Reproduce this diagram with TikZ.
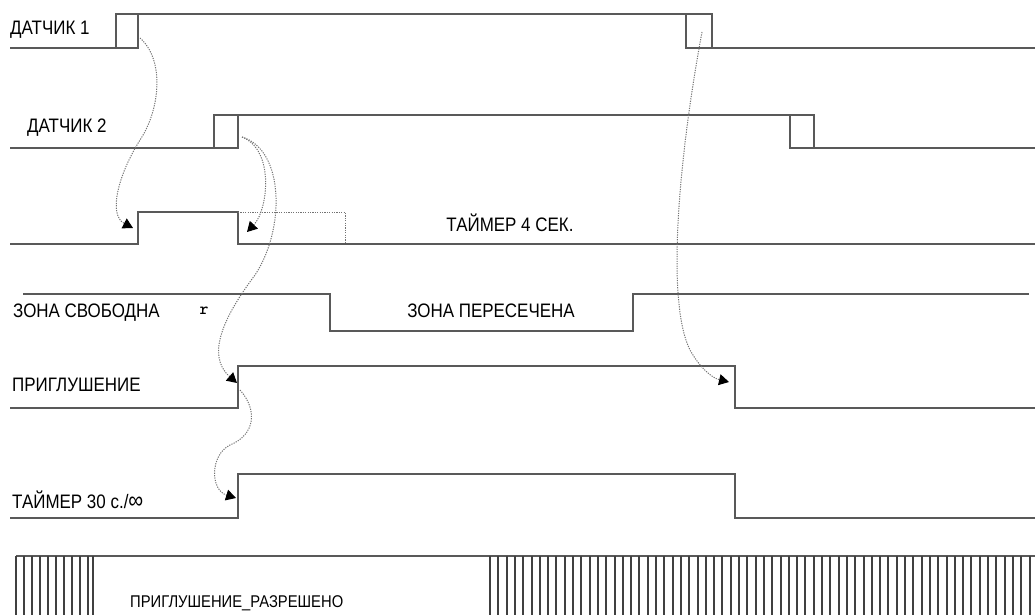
\documentclass[tikz,border=0pt]{standalone}
\usepackage{fontspec}
\setmainfont{Liberation Sans}[FakeStretch=0.87]
\usetikzlibrary{arrows.meta}

\begin{document}
\begin{tikzpicture}[x=1pt,y=-1pt,
    sig/.style={draw=black!65, line width=1.7pt},
    hatch/.style={draw=black!75, line width=2pt},
    link/.style={draw=black!55, dash pattern=on 1.2pt off 1.2pt, line width=1pt, -{Triangle[length=10pt,width=11pt,color=black]}},
    lbl/.style={font=\fontsize{19.5}{22}\selectfont, anchor=west, inner sep=0pt}]
    \useasboundingbox (0,0) rectangle (1035,615);
    % ДАТЧИК 1
    \draw[sig] (10,48) -- (138,48) -- (138,14);
    \draw[sig] (116,48) -- (116,14) -- (712,14) -- (712,48);
    \draw[sig] (686,14) -- (686,48) -- (1035,48);
    \node[lbl] (sens1) at (10,30) {ДАТЧИК 1};
    % ДАТЧИК 2
    \draw[sig] (10,148) -- (238,148) -- (238,115);
    \draw[sig] (214,148) -- (214,115) -- (814,115) -- (814,148);
    \draw[sig] (790,115) -- (790,148) -- (1035,148);
    \node[lbl] (sens2) at (27,128) {ДАТЧИК 2};
    % таймер 4 с
    \draw[sig] (10,244) -- (138,244) -- (138,212) -- (238,212) -- (238,244) -- (1035,244);
    \draw[draw=black!55, dash pattern=on 1.2pt off 1.2pt, line width=1pt] (238,212) -- (345,212) -- (345,244);
    \node[lbl, anchor=center] (timer4) at (510,223) {ТАЙМЕР 4 СЕК.};
    % зона
    \draw[sig] (23,294) -- (330,294) -- (330,331) -- (633,331) -- (633,294) -- (1029,294);
    \node[lbl] (zonefree) at (13,313) {ЗОНА СВОБОДНА};
    \node[lbl, anchor=center] (zonecut) at (491,311) {ЗОНА ПЕРЕСЕЧЕНА};
    \node[font=\ttfamily\bfseries\fontsize{17}{18}\selectfont, inner sep=0pt] (rmark) at (204,311) {r};
    % приглушение
    \draw[sig] (10,408) -- (238,408) -- (238,366) -- (735,366) -- (735,408) -- (1035,408);
    \node[lbl] (mute) at (12,385) {ПРИГЛУШЕНИЕ};
    % таймер 30 с
    \draw[sig] (10,518) -- (238,518) -- (238,474) -- (735,474) -- (735,518) -- (1035,518);
    \node[lbl] (timer30) at (12,500) {ТАЙМЕР 30 с./{\fontsize{24}{22}\selectfont ∞}};
    % разрешено
    \draw[sig] (16,556) -- (1035,556);
    \foreach \x in {16,24,...,88}
        \draw[hatch] (\x,556) -- (\x,615);
    \draw[hatch] (93,556) -- (93,615);
    \foreach \x in {490,498.3,...,1034}
        \draw[hatch] (\x,556) -- (\x,615);
    \node[lbl, font=\fontsize{17}{20}\selectfont] (allowed) at (130,603) {ПРИГЛУШЕНИЕ\_РАЗРЕШЕНО};
    % связи
    \coordinate (s1up) at (140,38);
    \coordinate (s1down) at (702,32);
    \coordinate (s2up) at (242,137);
    \coordinate (t4on) at (133,228);
    \coordinate (t4re) at (247,232);
    \coordinate (muteon) at (237,383);
    \coordinate (muteedge) at (240,390);
    \coordinate (muteoff) at (729,382);
    \coordinate (t30on) at (236,498);
    \draw[link] (s1up) .. controls (165,60) and (160,110) .. (140,140) .. controls (118,175) and (108,215) .. (t4on);
    \draw[link] (s2up) .. controls (275,150) and (268,210) .. (t4re);
    \draw[link] (s2up) .. controls (285,150) and (285,230) .. (255,275) .. controls (225,315) and (205,355) .. (muteon);
    \draw[link] (muteedge) .. controls (258,410) and (255,435) .. (230,445) .. controls (210,455) and (210,490) .. (t30on);
    \draw[link] (s1down) .. controls (680,150) and (665,300) .. (690,350) .. controls (700,368) and (712,378) .. (muteoff);
\end{tikzpicture}
\end{document}
